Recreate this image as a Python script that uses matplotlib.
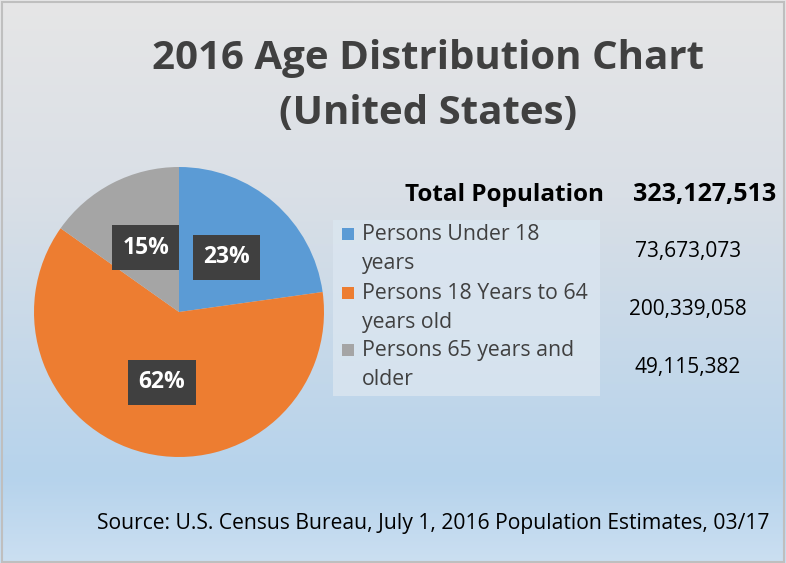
import numpy as np
import matplotlib
matplotlib.use("Agg")
import matplotlib.pyplot as plt
from matplotlib.colors import LinearSegmentedColormap
from matplotlib.patches import Rectangle

plt.rcParams['font.family'] = ['Open Sans', 'DejaVu Sans']
plt.rcParams['hatch.color'] = '#555555'
plt.rcParams['hatch.linewidth'] = 1.2

categories = ["Persons Under 18\nyears", "Persons 18 Years to 64\nyears old", "Persons 65 years and\nolder"]
population = [73673073, 200339058, 49115382]
total = 323127513
colors = ["#5b9bd5", "#ed7d31", "#a5a5a5"]

W, H = 786, 563
fig = plt.figure(figsize=(W / 100, H / 100), dpi=100)

# background gradient
bg = fig.add_axes([0, 0, 1, 1])
cmap = LinearSegmentedColormap.from_list("bg", [(0, "#e6e6e7"), (0.35, "#d9dfe6"), (0.85, "#b6d3ec"), (1, "#cbdff1")])
grad = np.linspace(0, 1, 256).reshape(-1, 1)
bg.imshow(grad, aspect="auto", cmap=cmap, extent=[0, 1, 0, 1], origin="upper")
bg.set_xlim(0, 1)
bg.set_ylim(0, 1)
bg.axis("off")
bg.add_patch(Rectangle((0.002, 0.002), 0.996, 0.994, fill=False, ec="#bfbfbf", lw=1.5))

# pie
ax = fig.add_axes([34 / W, 106 / H, 290 / W, 290 / H])
wedges, texts, autotexts = ax.pie(population, colors=colors, startangle=90, counterclock=False,
                                  autopct="%1.0f%%", pctdistance=0.5,
                                  wedgeprops=dict(linewidth=0))
for t in autotexts:
    t.set_color("white")
    t.set_fontsize(16.5)
    t.set_fontweight("bold")
    t.set_bbox(dict(boxstyle="square,pad=0.45", fc="#404040", ec="#404040", lw=0, hatch=".."))
ax.set_xlim(-1, 1)
ax.set_ylim(-1, 1)
ax.set_aspect("equal")

# title
fig.text(428 / W, 1 - 59 / H, "2016 Age Distribution Chart", ha="center", va="center",
         fontsize=29, fontweight="bold", color="#404040")
fig.text(428 / W, 1 - 114 / H, "(United States)", ha="center", va="center",
         fontsize=29, fontweight="bold", color="#404040")

# legend box
bg.add_patch(Rectangle((333 / W, 1 - 396 / H), 267 / W, 176 / H, fc="#dbe6f0", ec="none", alpha=0.8))
leg_y = [234, 293, 350]
num_y = [250, 308, 366]
for cat, c, y in zip(categories, colors, leg_y):
    bg.add_patch(Rectangle((342 / W, 1 - (y + 6) / H), 12 / W, 12 / H, fc=c, ec="none"))
    fig.text(362 / W, 1 - (y + 15) / H, cat, ha="left", va="center", fontsize=15.3,
             color="#404040", linespacing=1.55)

# totals
fig.text(405 / W, 1 - 195 / H, "Total Population", ha="left", va="center", fontsize=17.5,
         fontweight="bold", color="black")
fig.text(776 / W, 1 - 195 / H, f"{total:,}", ha="right", va="center", fontsize=18,
         fontweight="bold", color="black")
for v, y in zip(population, num_y):
    fig.text(688 / W, 1 - (y + 2) / H, f"{v:,}", ha="center", va="center", fontsize=15, color="black")

fig.text(433 / W, 1 - 523 / H, "Source: U.S. Census Bureau, July 1, 2016 Population Estimates, 03/17",
         ha="center", va="center", fontsize=15.2, color="black")

fig.savefig("out.png", dpi=100)
